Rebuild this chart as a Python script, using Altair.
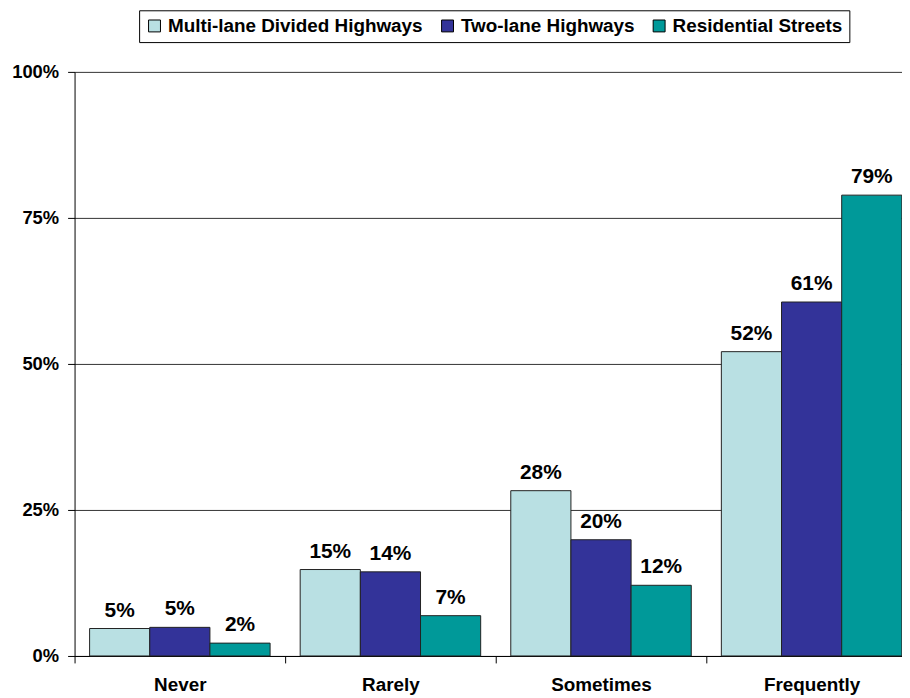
import altair as alt
import pandas as pd

categories = ["Never", "Rarely", "Sometimes", "Frequently"]
series = ["Multi-lane Divided Highways", "Two-lane Highways", "Residential Streets"]
multi_lane = [0.047, 0.148, 0.283, 0.521]
two_lane = [0.049, 0.144, 0.199, 0.606]
residential = [0.022, 0.069, 0.121, 0.789]
colors = ["#B9E0E3", "#333399", "#009999"]
y_ticks = [0, 0.25, 0.5, 0.75, 1.0]

rows = []
for s, vals in zip(series, [multi_lane, two_lane, residential]):
    for c, v in zip(categories, vals):
        rows.append({"category": c, "series": s, "value": v})
df = pd.DataFrame(rows)

FONT = "Liberation Sans"

x = alt.X(
    "category:N", sort=categories, title=None,
    scale=alt.Scale(range=[0, 848], paddingInner=0, paddingOuter=0),
    axis=alt.Axis(labelAngle=0, labelFont=FONT, labelFontSize=19,
                  labelFontWeight="bold", labelColor="black", labelPadding=13,
                  tickSize=7, tickColor="black", tickBand="extent",
                  domainColor="black", grid=False),
)
xo = alt.XOffset("series:N", sort=series,
                 scale=alt.Scale(paddingOuter=0.25, paddingInner=0))
y = alt.Y(
    "value:Q", title=None, scale=alt.Scale(domain=[0, 1]),
    axis=alt.Axis(values=y_ticks, format=".0%", labelFont=FONT, labelFontSize=18.5,
                  labelFontWeight="bold", labelColor="black", labelPadding=9,
                  tickSize=7, tickColor="black", domainColor="black",
                  grid=True, gridColor="#333333", gridWidth=1),
)

bars = alt.Chart(df).mark_bar(stroke="#222222", strokeWidth=1).encode(
    x=x, xOffset=xo, y=y,
    color=alt.Color(
        "series:N", sort=series,
        scale=alt.Scale(domain=series, range=colors),
        legend=alt.Legend(orient="none", legendX=65, legendY=-62,
                          direction="horizontal", title=None,
                          strokeColor="black", fillColor="white", padding=6,
                          symbolType="square", symbolSize=144,
                          symbolStrokeColor="black", symbolStrokeWidth=1,
                          labelFont=FONT, labelFontSize=19, labelFontWeight="bold",
                          labelColor="black", labelLimit=0,
                          columnPadding=15, labelOffset=4),
    ),
)

labels = alt.Chart(df).mark_text(
    dy=-12, baseline="alphabetic", align="center", font=FONT, fontSize=21,
    fontWeight="bold", color="black",
).encode(x=x, xOffset=xo, y=y, text=alt.Text("value:Q", format=".0%"))

chart = alt.layer(bars, labels).properties(
    width=833, height=588,
    autosize=alt.AutoSizeParams(type="none"),
    padding={"left": 67, "top": 62, "right": 0, "bottom": 40},
).configure_view(stroke=None)

chart.save("out.html", embed_options={"renderer": "svg", "actions": False})
